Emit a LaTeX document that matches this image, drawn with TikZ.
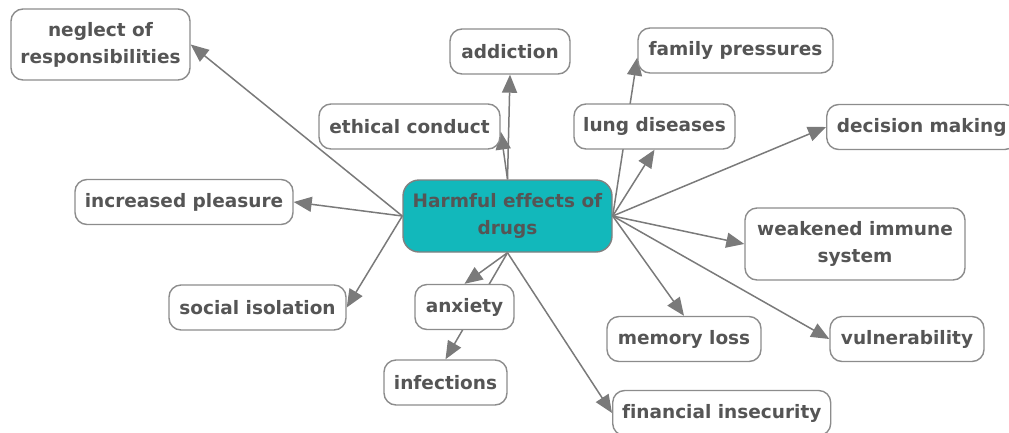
\documentclass[tikz,border=0pt]{standalone}
\usepackage{fontspec}
\setmainfont{DejaVu Sans}[Ligatures=NoCommon]
\usetikzlibrary{arrows.meta,backgrounds,calc}
\definecolor{boxline}{HTML}{8C8C8C}
\definecolor{linkgray}{HTML}{7A7A7A}
\definecolor{txtgray}{HTML}{555555}
\definecolor{hubfill}{HTML}{12B8BB}
\begin{document}
\begin{tikzpicture}[x=1pt,y=-1pt,
  box/.style={draw=boxline, line width=1.4pt, fill=white, rounded corners=12pt,
    minimum height=45pt, inner xsep=3pt, inner ysep=0pt, text=txtgray,
    font=\fontsize{18.5}{27}\selectfont\bfseries, align=center},
  hub/.style={box, fill=hubfill, draw=gray, rounded corners=16pt},
  link/.style={draw=linkgray, line width=1.5pt, -{Triangle[length=18pt,width=15pt]}}]
\useasboundingbox (0,0) rectangle (1009,432);

% central topic
\node[hub, minimum width=209pt, minimum height=72pt] (ctr) at (507.5,216) {Harmful effects of\\drugs};

% surrounding effects
\node[box, minimum width=179pt, minimum height=71pt] (neg) at (100.5,44.5) {neglect of\\responsibilities};
\node[box, minimum width=120pt] (add) at (510,51.5) {addiction};
\node[box, minimum width=195pt] (fam) at (735.5,50.5) {family pressures};
\node[box, minimum width=181pt] (eth) at (409.5,126.5) {ethical conduct};
\node[box, minimum width=161pt] (lung) at (654.5,126.5) {lung diseases};
\node[box, minimum width=190pt, anchor=west] (dec) at (826,127) {decision making};
\node[box, minimum width=218pt] (inc) at (184,202) {increased pleasure};
\node[box, minimum width=220pt, minimum height=72pt] (wk) at (855,244) {weakened immune\\system};
\node[box, minimum width=177pt] (soc) at (257.5,307.5) {social isolation};
\node[box, minimum width=99pt] (anx) at (464.5,307) {anxiety};
\node[box, minimum width=123pt] (inf) at (445.5,382.5) {infections};
\node[box, minimum width=154pt] (mem) at (684,339) {memory loss};
\node[box, minimum width=154pt] (vul) at (907,339) {vulnerability};
\node[box, minimum width=218pt, anchor=west] (fin) at (612,413) {financial insecurity};

% connectors, drawn beneath the boxes
\begin{scope}[on background layer]
  \draw[link] (ctr.west) -- (neg.east);
  \draw[link] (ctr.west) -- (inc.east);
  \draw[link] (ctr.west) -- (soc.east);
  \draw[link] (ctr.north) -- (add.south);
  \draw[link] (ctr.north) -- ($(eth.east)+(0,5)$);
  \draw[link] (ctr.south) -- (anx.north);
  \draw[link] (ctr.south) -- (inf.north);
  \draw[link] (ctr.south) -- (fin.west);
  \draw[link] (ctr.east) -- ($(fam.west)+(0,7)$);
  \draw[link] (ctr.east) -- (lung.south);
  \draw[link] (ctr.east) -- (dec.west);
  \draw[link] (ctr.east) -- (wk.west);
  \draw[link] (ctr.east) -- (vul.west);
  \draw[link] (ctr.east) -- (mem.north);
\end{scope}
\end{tikzpicture}
\end{document}
